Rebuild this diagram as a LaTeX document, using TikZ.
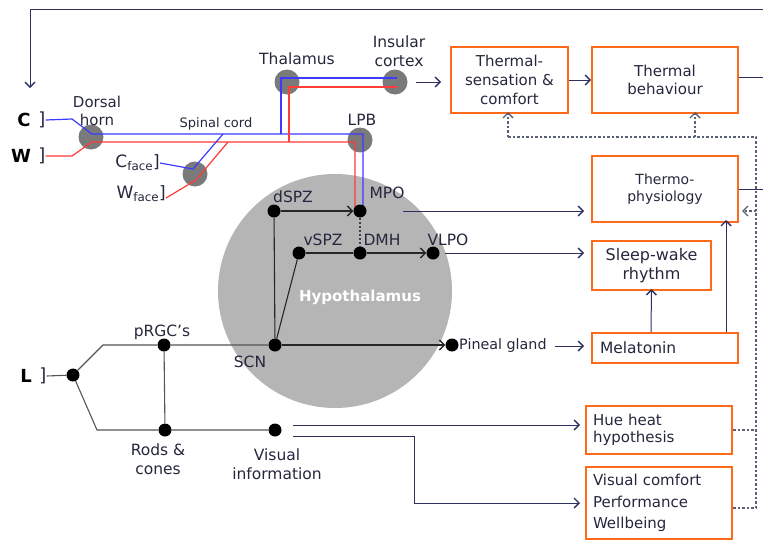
\documentclass[tikz,border=0pt]{standalone}
\usepackage{fontspec}
\setmainfont{DejaVu Sans}
\usetikzlibrary{arrows.meta,calc}
\definecolor{orng}{HTML}{FF6A1A}
\definecolor{navy}{HTML}{2E3160}
\definecolor{txt}{HTML}{25273D}
\definecolor{nucg}{HTML}{7A7A7A}
\definecolor{hypg}{HTML}{B5B5B5}
\definecolor{blu}{HTML}{3B3BFF}
\definecolor{rd}{HTML}{FF3B3B}
\definecolor{dashc}{HTML}{5A6075}
\definecolor{lgray}{HTML}{555555}
\begin{document}
\begin{tikzpicture}[x=1pt,y=-1pt,
  box/.style={draw=orng,line width=2pt,text=txt,inner sep=0pt,align=center},
  lbl/.style={text=txt,inner sep=0pt,align=center,font=\fontsize{15.5}{18.5}\selectfont},
  dot/.style={circle,fill=black,minimum size=13pt,inner sep=0pt},
  nuc/.style={circle,fill=nucg,minimum size=25pt,inner sep=0pt},
  nv/.style={draw=navy,line width=1pt},
  arr/.style={-{Straight Barb[length=5pt,width=10pt,line width=1.4pt]}},
  blk/.style={draw=black!85,line width=1.1pt},
  gl/.style={draw=lgray,line width=1.1pt},
  dsh/.style={draw=dashc,line width=1.1pt,dash pattern=on 2.5pt off 2pt},
  bl/.style={draw=blu,line width=1.2pt},
  rl/.style={draw=rd,line width=1.2pt}
]
\useasboundingbox (0,0) rectangle (763,541);

% hypothalamus
\node[circle,fill=hypg,minimum size=234pt,inner sep=0pt] (hyp) at (335,291) {};
\node[text=white,font=\bfseries\fontsize{15}{17}\selectfont,inner sep=0pt] (hypl) at (360,297) {Hypothalamus};

% nuclei
\node[nuc] (dh) at (91,137) {};
\node[nuc] (fc) at (195,174) {};
\node[nuc] (thal) at (287,82) {};
\node[nuc] (ins) at (395,82) {};
\node[nuc] (lpb) at (360,140) {};

% labels top-left
\node[font=\bfseries\fontsize{18}{20}\selectfont,text=black,inner sep=0pt] (cl) at (24,120) {C};
\node[font=\fontsize{18}{20}\selectfont,text=txt,inner sep=0pt] (cb) at (42,120) {]};
\node[font=\bfseries\fontsize{18}{20}\selectfont,text=black,inner sep=0pt] (wl) at (21,156) {W};
\node[font=\fontsize{18}{20}\selectfont,text=txt,inner sep=0pt] (wb) at (42,156) {]};
\node[lbl,font=\fontsize{15}{17.5}\selectfont] (dhl) at (97,111) {Dorsal\\horn};
\node[lbl,font=\fontsize{13}{15}\selectfont] (scl) at (216,124) {Spinal cord};
\node[lbl,anchor=east,font=\fontsize{17}{20}\selectfont] (cfl) at (160,163) {C\textsubscript{face}]};
\node[lbl,anchor=east,font=\fontsize{17}{20}\selectfont] (wfl) at (166,194) {W\textsubscript{face}]};
\node[lbl] (thl) at (297,59) {Thalamus};
\node[lbl] (insl) at (399,51) {Insular\\cortex};
\node[lbl] (lpbl) at (362,120) {LPB};

% coloured pathways
\coordinate (cj) at (223,134);
\coordinate (wj) at (228,142);
\coordinate (mpob) at (363,208);
\coordinate (mpor) at (355,208);
\draw[bl] (cb.east) -- (72,119) -- (92,134) -- (363,134) -- (mpob);
\draw[rl] (wb.east) -- (72,156) -- (92,142) -- (355,142) -- (mpor);
\draw[bl] (281,134) -- (281,78) -- (397,78);
\draw[rl] (289,142) -- (289,87) -- (397,87);
\draw[bl] (cfl.east) -- (193,169) -- (cj);
\draw[rl] ($(wfl.east)+(0,4)$) -- (196,180) -- (wj);

% hypothalamus dots
\node[dot] (dspz) at (274,211) {};
\node[dot] (mpo) at (360,211) {};
\node[dot] (vspz) at (299,253) {};
\node[dot] (dmh) at (360,253) {};
\node[dot] (vlpo) at (433,253) {};
\node[dot] (scn) at (275,345) {};
\node[dot] (pin) at (452,345) {};
\node[dot] (prgc) at (164,345) {};
\node[dot] (ldot) at (73,375) {};
\node[dot] (rods) at (165,430) {};
\node[dot] (vis) at (275,430) {};

\node[lbl] (dspzl) at (293,197) {dSPZ};
\node[lbl] (mpol) at (387,193) {MPO};
\node[lbl] (vspzl) at (323,240) {vSPZ};
\node[lbl] (dmhl) at (382,240) {DMH};
\node[lbl] (vlpol) at (448,240) {VLPO};
\node[lbl] (scnl) at (250,362) {SCN};
\node[lbl,anchor=west,font=\fontsize{14.3}{17}\selectfont] (pinl) at (459,346) {Pineal gland};
\node[lbl] (prgcl) at (162,332) {pRGC’s};
\node[font=\bfseries\fontsize{18}{20}\selectfont,text=black,inner sep=0pt] (ll) at (26,376) {L};
\node[font=\fontsize{18}{20}\selectfont,text=txt,inner sep=0pt] (lb) at (43,376) {]};
\node[lbl] (rodsl) at (158,459) {Rods \&\\cones};
\node[lbl] (visl) at (277,464) {Visual\\information};

% hypothalamus connectors
\draw[blk,arr] (dspz) -- (mpo);
\draw[blk] (vspz) -- (dmh);
\draw[blk,arr] (dmh) -- (vlpo);
\draw[blk] (scn) -- (dspz);
\draw[blk] (scn) -- (vspz);
\draw[blk,arr] (scn) -- (pin);
\draw[draw=black!75,line width=1.1pt,dash pattern=on 2pt off 2pt] (mpo) -- (dmh);

% light pathways
\draw[gl] (lb.east) -- (ldot);
\draw[gl] (ldot) -- (103,345) -- (prgc) -- (scn);
\draw[gl] (ldot) -- (97,430) -- (rods) -- (vis);
\draw[gl] (prgc) -- (rods);

% boxes
\node[box,minimum width=117pt,minimum height=66pt,font=\fontsize{15}{19}\selectfont] (ts) at (509.5,80) {Thermal-\\sensation \&\\comfort};
\node[box,minimum width=146pt,minimum height=66pt,font=\fontsize{15}{17.5}\selectfont] (tb) at (665,80) {Thermal\\behaviour};
\node[box,minimum width=146pt,minimum height=66pt,font=\fontsize{14}{17.5}\selectfont] (tp) at (665,189) {Thermo-\\physiology};
\node[box,minimum width=119pt,minimum height=49pt,font=\fontsize{16}{19}\selectfont] (sw) at (651.5,265.5) {Sleep-wake\\rhythm};
\node[box,minimum width=146pt,minimum height=30pt,text width=130pt,inner xsep=8pt,align=left,font=\fontsize{15.5}{18}\selectfont] (mel) at (665,348) {Melatonin};
\node[box,minimum width=146pt,minimum height=48pt,text width=132pt,inner xsep=7pt,align=left,font=\fontsize{15}{16.7}\selectfont] (hue) at (659,430) {Hue heat\\hypothesis};
\node[box,minimum width=146pt,minimum height=72pt,text width=132pt,inner xsep=7pt,align=left,font=\fontsize{15}{21.5}\selectfont] (vc) at (659,503) {Visual comfort\\Performance\\Wellbeing};

% navy connectors
\draw[nv,arr] ($(ins.east)+(8,0)$) -- ($(ts.west)+(-9,2)$);
\draw[nv,arr] (ts.east) -- (tb.west);
\draw[nv,arr] ($(mpo)+(43,0)$) -- ($(tp.west)+(-7,22)$);
\draw[nv,arr] ($(vlpo)+(12,0)$) -- ($(sw.west)+(-7,-12.5)$);
\draw[nv,arr] ($(pinl.east)+(8,0)$) -- ($(mel.west)+(-7,-2)$);
\coordinate (v1) at (293,425);
\coordinate (v2) at (293,436);
\draw[nv,arr] (v1) -- ($(hue.west)+(-5,-5)$);
\draw[nv,arr] (v2) -- (414,436) -- (414,503) -- ($(vc.west)+(-5,0)$);
\draw[nv,arr] ($(mel.north)+(-14,0)$) -- ($(sw.south)+(0,-2)$);
\draw[nv,arr] ($(mel.north)+(61,0)$) -- ($(tp.south)+(61,-3)$);

% edge lines
\coordinate (tr) at (763,9);
\coordinate (tl) at (30,9);
\draw[nv,arr] (tr) -- (tl) -- (30,88);
\draw[nv] ($(tb.east)+(0,-3)$) -- (763,77);
\draw[nv] (tp.east) -- (763,189);

% dashed feedback
\coordinate (dr) at (756,137);
\coordinate (db) at (756,508);
\draw[dsh] (db) -- (dr) -- (508,137);
\draw[dsh,arr] (508,137) -- ($(ts.south)+(-1.5,-2)$);
\draw[dsh,arr] (695,137) -- ($(tb.south)+(30,-2)$);
\draw[dsh,arr] (756,211) -- ($(tp.east)+(3,22)$);
\draw[dsh] (hue.east) -- (756,430);
\draw[dsh] ($(vc.east)+(0,5)$) -- (db);
\end{tikzpicture}
\end{document}
